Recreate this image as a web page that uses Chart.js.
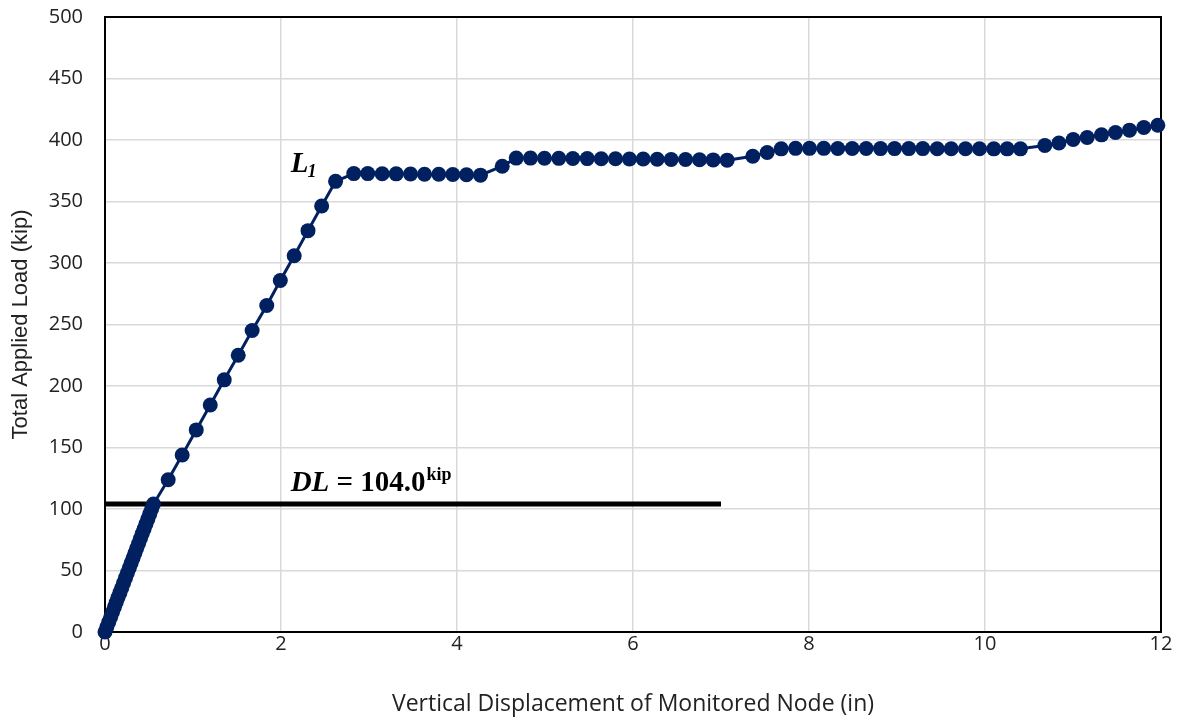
<!DOCTYPE html>
<html lang="en">
  <head>
    <meta charset="UTF-8" />
    <script src="https://cdn.jsdelivr.net/npm/chart.js@4/dist/chart.umd.min.js"></script>
    <title>Load vs Displacement</title>
    <style>
      html, body { margin: 0; padding: 0; background: #fff; }
      #wrap { width: 1182px; height: 721px; }
    </style>
  </head>
  <body>
    <div id="wrap"><canvas id="myChart" width="1182" height="721"></canvas></div>
  </body>
  <script>
    // displacement (in) and total load (kip)
    var displacement = [
      0, 0.021, 0.042, 0.064, 0.085, 0.106, 0.127, 0.148, 0.170, 0.191, 0.212, 0.233, 0.254, 0.276,
      0.297, 0.318, 0.339, 0.360, 0.382, 0.403, 0.424, 0.445, 0.466, 0.488, 0.509, 0.530, 0.551,
      0.718, 0.877, 1.037, 1.196, 1.355, 1.514, 1.672, 1.838, 1.992, 2.150, 2.307, 2.462, 2.620,
      2.827, 2.986, 3.150, 3.309, 3.472, 3.631, 3.793, 3.952, 4.108, 4.267,
      4.514,
      4.673, 4.835, 4.994, 5.157, 5.316, 5.480, 5.639, 5.801, 5.960, 6.116, 6.275, 6.434, 6.597, 6.756, 6.911, 7.070,
      7.361, 7.525, 7.684,
      7.847, 8.006, 8.168, 8.327, 8.491, 8.650, 8.813, 8.972, 9.134, 9.293, 9.457, 9.616, 9.778, 9.938, 10.100, 10.252, 10.403,
      10.680, 10.840, 11.002, 11.161, 11.324, 11.483, 11.642, 11.805, 11.964
    ];
    var load = [
      0, 4, 8, 12, 16, 20, 24, 28, 32, 36, 40, 44, 48, 52,
      56, 60, 64, 68, 72, 76, 80, 84, 88, 92, 96, 100, 104,
      123.8, 143.9, 164.3, 184.6, 205.0, 225.0, 245.1, 265.5, 285.8, 305.9, 326.3, 346.3, 366.4,
      372.7, 372.7, 372.6, 372.5, 372.4, 372.2, 372.1, 371.9, 371.7, 371.4,
      378.7,
      385.3, 385.3, 385.2, 385.1, 385.0, 384.9, 384.8, 384.7, 384.6, 384.5, 384.4, 384.2, 384.1, 384.0, 383.8, 383.6,
      386.8, 389.8, 392.8,
      393.2, 393.2, 393.2, 393.1, 393.1, 393.1, 393.0, 393.0, 393.0, 393.0, 392.9, 392.9, 392.9, 392.9, 392.8, 392.8, 392.8,
      395.5, 397.6, 400.4, 402.0, 404.2, 406.1, 408.0, 410.2, 412.0
    ];
    var dlX = [0, 7.0];
    var dlLoad = [104, 104];

    var pts = displacement.map(function (x, i) { return { x: x, y: load[i] }; });
    var dlPts = dlX.map(function (x, i) { return { x: x, y: dlLoad[i] }; });

    var tickFont = { family: "'Open Sans', sans-serif", size: 20 };

    var extras = {
      id: "extras",
      beforeDatasetsDraw: function (chart) {
        var a = chart.chartArea, c = chart.ctx;
        c.save();
        c.strokeStyle = "#000";
        c.lineWidth = 2;
        c.strokeRect(a.left, a.top, a.right - a.left, a.bottom - a.top);
        c.restore();
      },
      afterDatasetsDraw: function (chart) {
        var c = chart.ctx;
        var xs = chart.scales.x, ys = chart.scales.y;
        c.save();
        c.fillStyle = "#000";
        c.textBaseline = "alphabetic";
        // L1 label
        var lx = xs.getPixelForValue(2.11), ly = ys.getPixelForValue(374);
        c.font = "italic bold 29px 'Liberation Serif', serif";
        c.fillText("L", lx, ly);
        var w = c.measureText("L").width;
        c.font = "italic bold 18px 'Liberation Serif', serif";
        c.fillText("1", lx + w - 1, ly + 5);
        // DL label
        var dx = xs.getPixelForValue(2.11), dy = ys.getPixelForValue(115);
        c.font = "italic bold 29px 'Liberation Serif', serif";
        c.fillText("DL", dx, dy);
        dx += c.measureText("DL").width;
        c.font = "bold 29px 'Liberation Serif', serif";
        c.fillText(" = 104.0", dx, dy);
        dx += c.measureText(" = 104.0").width;
        c.font = "bold 18px 'Liberation Serif', serif";
        c.fillText("kip", dx + 1, dy - 11);
        c.restore();
      }
    };

    new Chart("myChart", {
      type: "scatter",
      data: {
        datasets: [
          {
            label: "Load",
            data: pts,
            showLine: true,
            borderColor: "#002060",
            backgroundColor: "#002060",
            borderWidth: 3,
            pointRadius: 7.5,
            pointBorderWidth: 0,
            pointBackgroundColor: "#002060",
            clip: false
          },
          {
            label: "DL",
            data: dlPts,
            showLine: true,
            borderColor: "#000",
            borderWidth: 5,
            pointRadius: 0,
            clip: false
          }
        ]
      },
      options: {
        responsive: false,
        devicePixelRatio: 1,
        animation: false,
        layout: { padding: { top: 17, right: 21, bottom: 0, left: 0 } },
        plugins: { legend: { display: false }, tooltip: { enabled: false } },
        scales: {
          x: {
            type: "linear",
            min: 0,
            max: 12,
            ticks: { stepSize: 2, color: "#222", font: tickFont, padding: 0, maxRotation: 0 },
            grid: { color: "#d9d9d9", lineWidth: 1.5, drawTicks: false },
            border: { display: false },
            title: {
              display: true,
              text: "Vertical Displacement of Monitored Node (in)",
              color: "#222",
              font: { family: "'Open Sans', sans-serif", size: 23 },
              padding: { top: 0, bottom: 3 }
            },
            afterFit: function (s) { s.height = 89; }
          },
          y: {
            min: 0,
            max: 500,
            ticks: { stepSize: 50, color: "#222", font: tickFont, padding: 2 },
            grid: { color: "#d9d9d9", lineWidth: 1.5, drawTicks: true, tickLength: 20, tickColor: "rgba(0,0,0,0)" },
            border: { display: false },
            title: {
              display: true,
              text: "Total Applied Load (kip)",
              color: "#222",
              font: { family: "'Liberation Sans', sans-serif", size: 22 },
              padding: { top: 8, bottom: 0 }
            },
            afterFit: function (s) { s.width = 105; }
          }
        }
      },
      plugins: [extras]
    });
  </script>
</html>
